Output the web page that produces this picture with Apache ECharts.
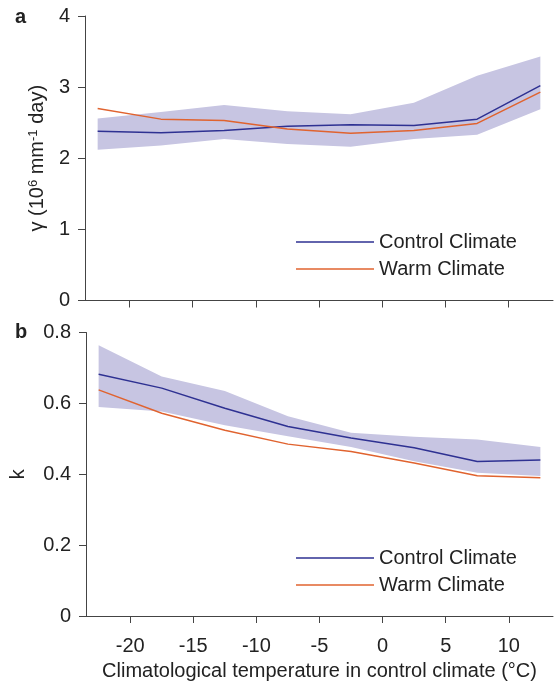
<!DOCTYPE html>
<html>
<head>
<meta charset="utf-8">
<script src="https://cdn.jsdelivr.net/npm/echarts@6/dist/echarts.min.js"></script>
<style>
  html, body { margin: 0; padding: 0; background: #fff; }
  #chart { width: 555px; height: 684px; }
</style>
</head>
<body>
<div id="chart"></div>
<script>
// bin centres of control-climate temperature (°C)
const temps = [-22.5, -17.5, -12.5, -7.5, -2.5, 2.5, 7.5, 12.5];
const xTicks = [-20, -15, -10, -5, 0, 5, 10];

// panel a: gamma (10^6 mm^-1 day)
const gammaControl = [2.38, 2.36, 2.39, 2.45, 2.47, 2.46, 2.55, 3.02];
const gammaWarm    = [2.70, 2.55, 2.53, 2.41, 2.35, 2.39, 2.49, 2.93];
const gammaLow     = [2.12, 2.18, 2.27, 2.20, 2.16, 2.27, 2.33, 2.69];
const gammaHigh    = [2.56, 2.65, 2.75, 2.66, 2.62, 2.78, 3.16, 3.43];

// panel b: k
const kControl = [0.682, 0.643, 0.586, 0.535, 0.502, 0.475, 0.436, 0.440];
const kWarm    = [0.638, 0.572, 0.524, 0.485, 0.464, 0.432, 0.396, 0.390];
const kLow     = [0.590, 0.577, 0.538, 0.507, 0.477, 0.437, 0.404, 0.395];
const kHigh    = [0.764, 0.676, 0.635, 0.564, 0.517, 0.506, 0.498, 0.477];

const BLUE = '#2e3192';
const ORANGE = '#e0632f';
const BAND = '#c7c5e2';
const AXIS = '#444';
const FONT = '"Liberation Sans", Arial, Helvetica, sans-serif';

const pairs = (ys) => temps.map((t, i) => [t, ys[i]]);

const chart = echarts.init(document.getElementById('chart'));

const xAxisBase = (idx) => ({
  type: 'value',
  gridIndex: idx,
  min: -23.5,
  max: 13.5,
  axisLine: { onZero: false, lineStyle: { color: AXIS, width: 1 } },
  axisTick: { inside: false, length: 7, customValues: xTicks, lineStyle: { color: AXIS } },
  axisLabel: { customValues: xTicks, show: idx === 1, margin: 20, color: '#222', fontSize: 20, fontFamily: FONT },
  splitLine: { show: false }
});

const yAxisBase = (idx, max, interval) => ({
  type: 'value',
  gridIndex: idx,
  min: 0,
  max: max,
  interval: interval,
  axisLine: { show: true, onZero: false, lineStyle: { color: AXIS, width: 1 } },
  axisTick: { show: true, length: 7, lineStyle: { color: AXIS } },
  axisLabel: { margin: 15, color: '#222', fontSize: 20, fontFamily: FONT },
  splitLine: { show: false },
  nameLocation: 'middle',
  nameRotate: 90
});

// spread band drawn as one polygon through the axis scales
const bandSeries = (idx, lo, hi) => ({
  type: 'custom',
  xAxisIndex: idx,
  yAxisIndex: idx,
  silent: true,
  z: 1,
  data: [[temps[0], lo[0]]],
  renderItem: (params, api) => {
    const upper = temps.map((t, i) => api.coord([t, hi[i]]));
    const lower = temps.map((t, i) => api.coord([t, lo[i]])).reverse();
    return {
      type: 'polygon',
      shape: { points: upper.concat(lower) },
      style: { fill: BAND, stroke: null }
    };
  }
});

const lineSeries = (idx, name, ys, color) => ({
  name: name, type: 'line', xAxisIndex: idx, yAxisIndex: idx,
  data: pairs(ys), symbol: 'none', color: color, z: 3,
  lineStyle: { color: color, width: 1.5 }
});

const legendBase = (top) => ({
  data: ['Control Climate', 'Warm Climate'],
  orient: 'vertical',
  left: 296,
  top: top,
  padding: 0,
  icon: 'rect',
  itemWidth: 78,
  itemHeight: 1.5,
  itemGap: 7,
  selectedMode: false,
  textStyle: { fontSize: 20, color: '#222', fontFamily: FONT }
});

const option = {
  backgroundColor: '#fff',
  animation: false,
  textStyle: { fontFamily: FONT },
  grid: [
    { left: 85, top: 16, width: 468, height: 284.5 },
    { left: 85, top: 332.5, width: 468, height: 283.5 }
  ],
  xAxis: [
    xAxisBase(0),
    Object.assign(xAxisBase(1), {
      name: 'Climatological temperature in control climate (°C)',
      nameLocation: 'middle',
      nameGap: 45,
      nameTextStyle: { fontSize: 20, color: '#222', fontFamily: FONT }
    })
  ],
  yAxis: [
    Object.assign(yAxisBase(0, 4, 1), {
      name: 'γ (10{sup|6} mm{sup|-1} day)',
      nameGap: 34,
      nameTextStyle: {
        fontSize: 20, color: '#222', fontFamily: FONT,
        rich: { sup: { fontSize: 13, verticalAlign: 'top', padding: [0, 0, 10, 0], color: '#222', fontFamily: FONT } }
      }
    }),
    Object.assign(yAxisBase(1, 0.8, 0.2), {
      name: 'k',
      nameGap: 58,
      nameTextStyle: { fontSize: 20, color: '#222', fontFamily: FONT }
    })
  ],
  legend: [legendBase(232), legendBase(548)],
  graphic: [
    { type: 'text', left: 15, top: 7, style: { text: 'a', fontSize: 20, fontWeight: 'bold', fill: '#222', fontFamily: FONT } },
    { type: 'text', left: 15, top: 322, style: { text: 'b', fontSize: 20, fontWeight: 'bold', fill: '#222', fontFamily: FONT } }
  ],
  series: [
    bandSeries(0, gammaLow, gammaHigh),
    lineSeries(0, 'Control Climate', gammaControl, BLUE),
    lineSeries(0, 'Warm Climate', gammaWarm, ORANGE),
    bandSeries(1, kLow, kHigh),
    lineSeries(1, 'Control Climate', kControl, BLUE),
    lineSeries(1, 'Warm Climate', kWarm, ORANGE)
  ]
};

chart.setOption(option);
</script>
</body>
</html>
